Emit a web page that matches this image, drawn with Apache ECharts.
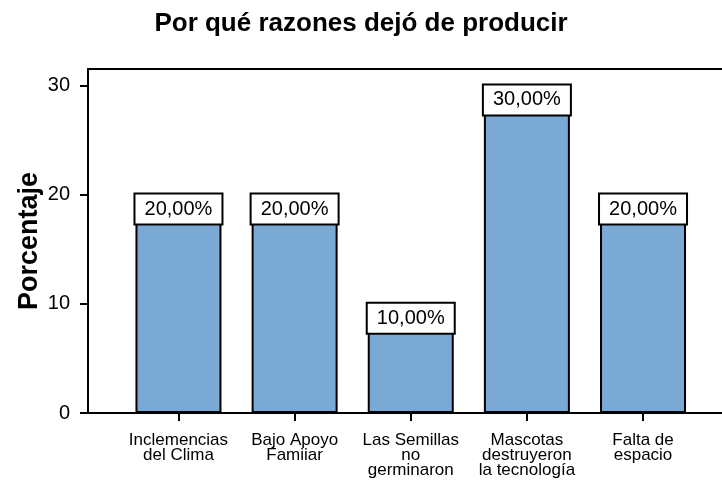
<!DOCTYPE html>
<html>
<head>
<meta charset="utf-8">
<script src="https://cdn.jsdelivr.net/npm/echarts@6/dist/echarts.min.js"></script>
<style>
    html, body {margin: 0; padding: 0; background: #fff;}
    #main {width: 722px; height: 487px;}
</style>
</head>
<body>
<div id="main"></div>
<script>
// datos del grafico
var categories = ['Inclemencias\ndel Clima', 'Bajo Apoyo\nFamiiar', 'Las Semillas\nno\ngerminaron', 'Mascotas\ndestruyeron\nla tecnología', 'Falta de\nespacio'];
var values = [20, 20, 10, 30, 20];
var yTicks = [0, 10, 20, 30];
var xTicks = [0, 1, 2, 3, 4];

var font = 'Liberation Sans, Arial, sans-serif';
var myChart = echarts.init(document.getElementById('main'));

var option = {
    animation: false,
    title: {
        text: 'Por qué razones dejó de producir',
        left: 'center',
        top: 6,
        textStyle: {fontFamily: font, fontSize: 26, fontWeight: 'bold', color: '#000'}
    },
    grid: {left: 88, right: 0, top: 69, bottom: 74},
    xAxis: [{
        type: 'value',
        min: -0.779,
        max: 4.68,
        splitLine: {show: false},
        axisLine: {onZero: false, lineStyle: {color: '#000', width: 2}},
        axisTick: {customValues: xTicks, length: 8, lineStyle: {color: '#000', width: 2}},
        axisLabel: {
            customValues: xTicks,
            margin: 20,
            color: '#000',
            fontFamily: font,
            fontSize: 17,
            lineHeight: 15,
            formatter: function (v) {
                return categories[Math.round(v)];
            }
        }
    }, {
        // linea superior del marco
        type: 'value',
        position: 'top',
        min: -0.779,
        max: 4.68,
        splitLine: {show: false},
        axisLine: {onZero: false, lineStyle: {color: '#000', width: 2}},
        axisTick: {show: false},
        axisLabel: {show: false}
    }],
    yAxis: {
        type: 'value',
        min: 0,
        max: 31.5,
        name: 'Porcentaje',
        nameLocation: 'middle',
        nameGap: 45,
        nameMoveOverlap: false,
        nameTextStyle: {fontFamily: font, fontSize: 27, fontWeight: 'bold', color: '#000'},
        splitLine: {show: false},
        axisLine: {show: true, onZero: false, lineStyle: {color: '#000', width: 2}},
        axisTick: {customValues: yTicks, length: 8, lineStyle: {color: '#000', width: 2}},
        axisLabel: {customValues: yTicks, margin: 18, color: '#000', fontFamily: font, fontSize: 20}
    },
    series: [{
        type: 'bar',
        barWidth: 86,
        data: values.map(function (v, i) { return [i, v]; }),
        itemStyle: {color: '#7ba9d6', borderColor: '#000', borderWidth: 2},
        label: {
            show: true,
            position: 'insideTop',
            distance: 0,
            width: 86,
            height: 29,
            lineHeight: 29,
            padding: 0,
            align: 'center',
            backgroundColor: '#fff',
            borderColor: '#000',
            borderWidth: 2,
            color: '#000',
            fontFamily: font,
            fontSize: 20,
            formatter: function (p) {
                return p.value[1].toFixed(2).replace('.', ',') + '%';
            }
        }
    }]
};
myChart.setOption(option);
</script>
</body>
</html>
